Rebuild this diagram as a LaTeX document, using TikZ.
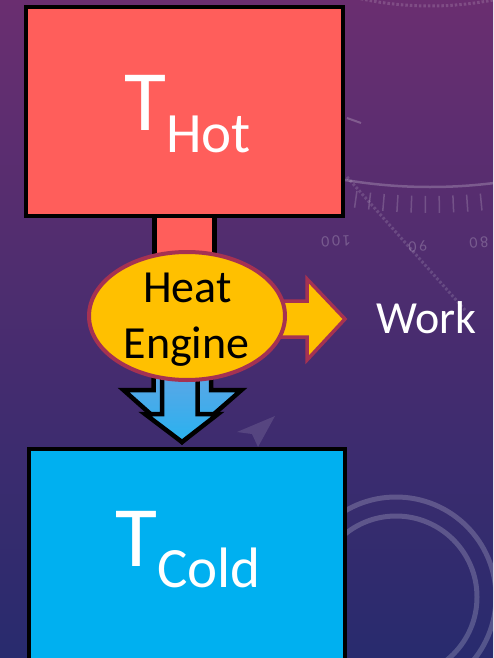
\documentclass[tikz,border=0pt]{standalone}
\usepackage{fontspec}
\setmainfont{Carlito}
\usetikzlibrary{shapes.geometric}

\definecolor{bgtop}{RGB}{106,46,112}
\definecolor{bgmid}{RGB}{78,44,110}
\definecolor{bgbot}{RGB}{40,43,110}
\definecolor{hotred}{RGB}{255,94,91}
\definecolor{coldblue}{RGB}{0,176,240}
\definecolor{gold}{RGB}{255,192,0}
\definecolor{maroon}{RGB}{165,50,82}
\definecolor{flowtop}{RGB}{118,160,224}
\definecolor{flowbot}{RGB}{40,178,240}

\tikzset{
  deco/.style={draw=white, draw opacity=0.22, line width=2.5},
  reservoir/.style={draw=black, line width=4, inner sep=0, rectangle},
  flowarrow/.style={draw=black, line width=4.5, line join=miter,
    top color=flowtop, bottom color=flowbot},
  workarrow/.style={draw=maroon, line width=3.5, line join=miter, fill=gold},
  bigtext/.style={text=white, inner sep=0, anchor=base west},
  enginetext/.style={text=black, inner sep=0, anchor=base,
    font=\fontsize{46}{46}\selectfont},
  dialtext/.style={text=white, text opacity=0.22, inner sep=0,
    font=\fontsize{16}{16}\selectfont},
}

\begin{document}
\begin{tikzpicture}[x=1pt,y=-1pt]
\useasboundingbox (0,0) rectangle (493,658);
\clip (0,0) rectangle (493,658);

% backdrop
\shade[top color=bgtop, middle color=bgmid, bottom color=bgbot]
  (0,0) rectangle (493,658);

% dial ornament, upper right
\draw[deco] (430,-329) ++(100:516) arc[start angle=100, end angle=80, radius=516];
\draw[deco, dotted, line width=3, draw opacity=0.15] (430,-329) ++(105:335) arc[start angle=105, end angle=78, radius=335];
\foreach \a in {83,84.5,...,98.5}
  \draw[deco, line width=1.5, draw opacity=0.18] (430,-329) ++(\a:525) -- ++(\a:17);
\draw[deco, dotted, line width=3, draw opacity=0.14] (347,177) -- (465,310);
\draw[deco, line width=2] (347,118) -- (361,123);
\node[dialtext, rotate=183] (d100) at (336,241) {1\,0\,0};
\node[dialtext, rotate=185] (d90) at (418,246) {9\,0};
\node[dialtext, rotate=185] (d80) at (479,243) {8\,0};

% rings, lower right
\draw[deco, line width=5, draw opacity=0.2] (396,597) circle[radius=100];
\draw[deco, line width=5, draw opacity=0.2] (396,597) circle[radius=81];

% pointer glyph
\fill[white, fill opacity=0.12] (275,416) -- (237,432) -- (252,434) -- (258,447) -- cycle;

% heat flowing out of the hot reservoir
\node[reservoir, line width=5, fill=hotred, minimum width=60, minimum height=80] (stem) at (184.5,250) {};
\node[reservoir, fill=hotred, minimum width=317, minimum height=209] (hot) at (184.5,111.5) {};

% work output
\path[workarrow] (240,301) -- (307,301) -- (307,279) -- (345,319) -- (307,360)
  -- (307,337) -- (240,337) -- cycle;

% rejected heat
\path[flowarrow] (153.5,340) -- (153.5,390) -- (123.5,390) -- (182,442)
  -- (241.5,390) -- (211,390) -- (211,340) -- cycle;
\path[flowarrow] (162,340) -- (162,414) -- (145,414) -- (182,442)
  -- (218,414) -- (197.5,414) -- (197.5,340) -- cycle;

% engine
\node[ellipse, draw=maroon, line width=4, fill=gold, inner sep=0,
  minimum width=196, minimum height=128] (engine) at (187,316) {};
\node[enginetext] (heat) at (187.5,302) {Heat};
\node[enginetext] (eng) at (186.5,358) {Engine};

% cold reservoir
\node[reservoir, fill=coldblue, minimum width=316, minimum height=224] (cold) at (187,561) {};

% labels
\node[bigtext] (hotlabel) at (124,130)
  {\fontsize{86}{86}\selectfont T\raisebox{-22pt}{\fontsize{57}{57}\selectfont Hot}};
\node[bigtext] (coldlabel) at (115,566)
  {\fontsize{86}{86}\selectfont T\raisebox{-21pt}{\fontsize{57}{57}\selectfont Cold}};
\node[bigtext, font=\fontsize{46}{46}\selectfont] (work) at (376,333) {Work};
\end{tikzpicture}
\end{document}
